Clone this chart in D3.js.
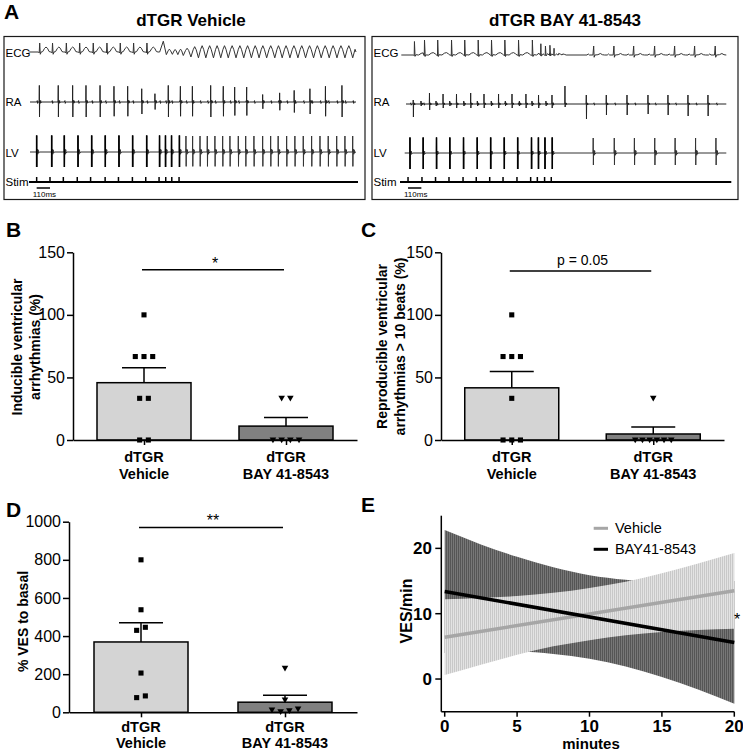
<!DOCTYPE html>
<html><head><meta charset="utf-8">
<script src="https://cdn.jsdelivr.net/npm/d3@7"></script>
<style>body{margin:0;background:#fff}svg{display:block}</style>
</head><body><svg id="chart" width="743" height="750"></svg>
<script>
// ================= DATA =================
const groups = ["dTGR Vehicle", "dTGR BAY 41-8543"];
const groupLabels = [["dTGR", "Vehicle"], ["dTGR", "BAY 41-8543"]];

// Panel B – inducible ventricular arrhythmias (%)
const bVehicle = [100, 66.7, 66.7, 66.7, 33.3, 33.3, 0, 0];
const bBay = [33.3, 33.3, 0, 0, 0, 0];
const bMean = [45.8, 11.1];
const bSem = [11.9, 6.8];
const bTicks = [0, 50, 100, 150];

// Panel C – reproducible ventricular arrhythmias > 10 beats (%)
const cVehicle = [100, 66.7, 66.7, 66.7, 33.3, 0, 0, 0];
const cBay = [33.3, 0, 0, 0, 0, 0, 0];
const cMean = [41.7, 4.8];
const cSem = [13.0, 5.6];
const cTicks = [0, 50, 100, 150];

// Panel D – % VES to basal
const dVehicle = [800, 538, 430, 446, 206, 77, 86];
const dBay = [231, 64, 12, 3, 8, 17];
const dMean = [369, 53];
const dSem = [101, 37];
const dTicks = [0, 200, 400, 600, 800, 1000];

// Panel E – VES/min regression with 95% confidence bands
const eX = [0, 2.5, 5, 7.5, 10, 12.5, 15, 17.5, 20];
const vehLo = [0.6, 2.2, 3.7, 5.0, 5.95, 6.7, 7.2, 7.5, 7.7];
const vehHi = [12.2, 12.4, 12.7, 13.2, 13.95, 14.9, 16.2, 17.7, 19.3];
const bayLo = [4.0, 4.2, 4.2, 3.85, 3.1, 1.9, 0.3, -1.6, -3.8];
const bayHi = [22.8, 20.6, 18.7, 17.1, 15.9, 15.2, 14.8, 14.8, 15.0];
const fitX = [0, 20];
const vehFit = [6.4, 13.5];
const bayFit = [13.4, 5.6];
const eYTicks = [0, 10, 20];
const eXTicks = [0, 5, 10, 15, 20];

// Panel A – recordings (times in ms from start of trace)
const vehStim = [55, 165, 275, 390, 500, 620, 730, 845, 955, 1065, 1120, 1170, 1230];
const vehEcgBeats = [80, 186, 300, 410, 522, 635, 745, 855, 965];
const vehEcgVT = [1125, 1175, 1220, 1265, 1328, 1390, 1451, 1514, 1574, 1636, 1700, 1764, 1827, 1890, 1953, 2020, 2081, 2145, 2211, 2274, 2340, 2403, 2469, 2533, 2599, 2663];
const vehEcgVTamp = [0.45, 0.4, 0.45, 0.6, 0.85, 1, 1, 1, 1, 1, 1, 1, 1, 1, 1, 1, 1, 1, 1, 1, 1, 1, 1, 1, 1, 1];
const vehRA = [77, 233, 352, 462, 578, 693, 806, 922, 1031, 1141, 1241, 1340, 1491, 1595, 1689, 1788, 1920, 2060, 2180, 2310, 2438, 2574];
const vehRAamp = [1, 1, 1, 1, 1, 0.95, 0.95, 0.8, 0.5, 1, 0.95, 0.95, 1, 0.95, 0.9, 0.9, 0.45, 0.55, 0.7, 0.8, 0.95, 1];
const vehLV = [55, 179, 283, 396, 509, 621, 734, 847, 963, 1069, 1118, 1168, 1233, 1287, 1342, 1403, 1463, 1526, 1590, 1650, 1719, 1780, 1848, 1920, 1986, 2048, 2118, 2186, 2255, 2324, 2393, 2461, 2531, 2599, 2663];

const bayStim = [58, 173, 285, 396, 512, 621, 732, 842, 957, 1070, 1125, 1185, 1240];
const bayEcgPaced = [111, 194, 303, 417, 526, 637, 747, 857, 970, 1084, 1154, 1192, 1229, 1263];
const bayEcgPacedAmp = [0.9, 1, 1, 1, 1, 1, 1, 1, 1, 1, 0.75, 0.6, 0.65, 0.45];
const bayEcgPost = [1590, 1757, 1920, 2093, 2258, 2423, 2593];
const bayRA = [101, 165, 235, 289, 347, 402, 458, 518, 575, 630, 685, 745, 805, 861, 916, 977, 1031, 1081, 1135, 1196, 1246, 1353, 1529, 1694, 1865, 2038, 2203, 2368, 2533];
const bayRAup = [0.2, 0.15, 0.55, 0.15, 0.5, 0.15, 0.5, 0.15, 0.55, 0.15, 0.5, 0.15, 0.5, 0.15, 0.5, 0.15, 0.5, 0.15, 0.45, 0.15, 0.45, 0.9, 0.45, 0.45, 0.45, 0.45, 0.45, 0.45, 0.45];
const bayRAdown = [0.65, 0.1, 0.3, 0.1, 0.2, 0.1, 0.2, 0.1, 0.2, 0.1, 0.2, 0.1, 0.2, 0.1, 0.2, 0.1, 0.2, 0.1, 0.2, 0.1, 0.2, 0.15, 0.75, 0.55, 0.55, 0.5, 0.55, 0.6, 0.6];
const bayLV = [74, 183, 293, 403, 516, 629, 740, 852, 963, 1077, 1134, 1188, 1248, 1586, 1760, 1926, 2094, 2262, 2431, 2599];

// ================= DRAWING =================
const FONT = '"Liberation Sans", Arial, Helvetica, sans-serif';
const svg = d3.select("#chart");

function T(g, x, y, s, size, opt = {}) {
  return g.append("text").attr("x", x).attr("y", y).text(s)
    .attr("font-family", FONT).attr("font-size", size)
    .attr("font-weight", opt.bold ? "bold" : "normal")
    .attr("text-anchor", opt.anchor || "start").attr("fill", opt.fill || "#000");
}
function RT(g, x, y, s, size, bold) {
  return g.append("text").attr("transform", `translate(${x},${y}) rotate(-90)`)
    .attr("text-anchor", "middle").attr("font-family", FONT).attr("font-size", size)
    .attr("font-weight", bold ? "bold" : "normal").attr("fill", "#000").text(s);
}

// ---------- Panel A ----------
const ecgSinusTpl = [[-10,0],[-4,-0.1],[0,1],[5,-0.25],[12,0],[25,0.05],[40,0.4],[52,0.55],[64,0.42],[78,0.05],[92,0]];
const ecgPacedTpl = [[-6,0],[-2,-0.05],[0,1],[5,-0.1],[12,0.02],[35,0],[55,0.12],[72,0.16],[88,0.08],[100,0]];
const ecgPostTpl = [[-55,0],[-45,0.07],[-35,0],[-6,0],[0,0.6],[4,-0.15],[10,0],[35,0.02],[55,0.1],[72,0.02],[90,0]];
const place = (tpl, t, a) => tpl.map(([dt, v]) => [t + dt, v * a]);
const spike = (t, up, down, blob) => [[t-1.5,0],[t,up],[t+1.5,-down],[t+3,0],
  [t+6,blob],[t+9,-blob*0.8],[t+12,blob*0.8],[t+16,-blob*0.4],[t+21,0]];
const blip = (t, a) => [[t-2,0],[t+1,a],[t+4,-a],[t+7,0]];

function recording(o) {
  const g = svg.append("g");
  g.append("rect").attr("x", o.box[0]).attr("y", 36.5).attr("width", o.box[1] - o.box[0]).attr("height", 163)
    .attr("fill", "none").attr("stroke", "#1a1a1a").attr("stroke-width", 1.2);
  T(g, o.titleX, 26, o.title, 17, {bold: true, anchor: "middle"});
  const t = d3.scaleLinear().domain([0, 110]).range([o.x0, o.x0 + 13.33]);
  const lx = o.box[0] + 1.5;
  T(g, lx, 56.5, "ECG", 11.5);
  T(g, lx, 106, "RA", 11.5);
  T(g, lx, 156.5, "LV", 11.5);
  T(g, lx, 186, "Stim", 11.5);
  const line = ys => d3.line().x(d => t(d[0])).y(d => ys(d[1]));
  const trace = (pts, start, end, ys, w, col) => {
    const t0 = t.invert(start), t1 = t.invert(end);
    const all = [[t0, 0], ...pts.filter(p => p[0] > t0 && p[0] < t1), [t1, 0]].sort((a, b) => a[0] - b[0]);
    g.append("path").attr("d", line(ys)(all)).attr("fill", "none")
      .attr("stroke", col || "#1a1a1a").attr("stroke-width", w || 1).attr("stroke-linejoin", "round");
  };
  const ecgY = d3.scaleLinear().domain([0, 1]).range([o.ecgBase, o.ecgBase - o.ecgPx]);
  trace(o.ecgPts, o.ecgStart, o.end, ecgY, 1, "#333");
  const raY = d3.scaleLinear().domain([0, 1]).range([o.raBase, o.raBase - 20]);
  trace(o.raPts, o.raStart, o.end, raY, 1, "#222");
  const lvY = d3.scaleLinear().domain([0, 1]).range([o.lvBase, o.lvBase - 20]);
  trace(o.lvPts, o.lvStart, o.end, lvY, 1, "#333");
  o.lvPaced.forEach(([tt, up, dn]) => {
    g.append("line").attr("x1", t(tt)).attr("x2", t(tt)).attr("y1", lvY(up)).attr("y2", lvY(-dn))
      .attr("stroke", "#000").attr("stroke-width", 1.6);
  });
  g.append("line").attr("x1", o.stimStart).attr("x2", o.stimEnd).attr("y1", 182).attr("y2", 182)
    .attr("stroke", "#000").attr("stroke-width", 2);
  o.stim.forEach(s => g.append("line").attr("x1", t(s)).attr("x2", t(s)).attr("y1", 182).attr("y2", 177)
    .attr("stroke", "#000").attr("stroke-width", 1.5));
  g.append("line").attr("x1", t(o.stim[0])).attr("x2", t(o.stim[0] + 110)).attr("y1", 188).attr("y2", 188)
    .attr("stroke", "#000").attr("stroke-width", 1.5);
  T(g, t(o.stim[0]) - 4, 197, "110ms", 8);
}

(function () {
  const ecg = [];
  vehEcgBeats.forEach(b => ecg.push(...place(ecgSinusTpl, b, 1)));
  ecg.push([1070, 0]);
  const first = vehEcgVT[0] - (vehEcgVT[1] - vehEcgVT[0]) / 2;
  ecg.push([first, 1.2]);
  vehEcgVT.forEach((tt, i) => {
    const P = (i < vehEcgVT.length - 1 ? vehEcgVT[i + 1] : tt + 64) - tt;
    const a = vehEcgVTamp[i];
    ecg.push([tt, -0.65 * a], [tt + 0.3 * P, 0.3 * a], [tt + 0.5 * P, 0.7 * a], [tt + 0.7 * P, 0.3 * a]);
  });
  const ra = [];
  vehRA.forEach((tt, i) => ra.push(...spike(tt, 0.83 * vehRAamp[i], 0.75 * vehRAamp[i], 0.08)));
  vehLV.forEach(tt => ra.push(...blip(tt + 4, 0.07)));
  const lv = [];
  vehLV.forEach((tt, i) => lv.push(...spike(tt, i < 13 ? 0.83 : 0.8, i < 13 ? 0.75 : 0.72, 0.14)));
  recording({
    box: [4, 365], title: groups[0], titleX: 191, x0: 30,
    ecgBase: 52, ecgPx: 9, ecgPts: ecg, ecgStart: 28.5,
    raBase: 102, raPts: ra, raStart: 30,
    lvBase: 152, lvPts: lv, lvStart: 30,
    lvPaced: vehLV.slice(0, 13).map(tt => [tt, 0.83, 0.75]),
    end: 356, stim: vehStim, stimStart: 29, stimEnd: 358
  });
})();

(function () {
  const ecg = [];
  bayEcgPaced.forEach((b, i) => ecg.push(...place(ecgPacedTpl, b, bayEcgPacedAmp[i])));
  bayEcgPost.forEach(b => ecg.push(...place(ecgPostTpl, b, 1)));
  const ra = [];
  bayRA.forEach((tt, i) => ra.push(...spike(tt, bayRAup[i], bayRAdown[i], 0.06)));
  bayLV.forEach(tt => ra.push(...blip(tt + 6, 0.06)));
  const lv = [];
  bayLV.forEach((tt, i) => lv.push(...spike(tt, i < 13 ? 0.78 : 0.75, i < 13 ? 0.8 : 0.6, i < 13 ? 0.1 : 0.14)));
  recording({
    box: [372, 738], title: groups[1], titleX: 565, x0: 401,
    ecgBase: 55, ecgPx: 15, ecgPts: ecg, ecgStart: 401.3,
    raBase: 104, raPts: ra, raStart: 406,
    lvBase: 153, lvPts: lv, lvStart: 404.7,
    lvPaced: bayLV.slice(0, 13).map(tt => [tt, 0.78, 0.8]),
    end: 726.3, stim: bayStim, stimStart: 400, stimEnd: 731.3
  });
})();

T(svg, 4, 19, "A", 21, {bold: true});

// ---------- bar panels ----------
function swarm(vals, y, thr, maxSp) {
  const clusters = [];
  vals.forEach((v, i) => {
    const py = y(v);
    let c = clusters.find(c => Math.abs(c.py - py) < thr);
    if (!c) { c = {py, items: []}; clusters.push(c); }
    c.items.push(i);
  });
  const off = new Array(vals.length).fill(0);
  clusters.forEach(c => {
    const n = c.items.length, sp = n > 1 ? Math.min(maxSp, 36 / (n - 1)) : 0;
    c.items.forEach((idx, k) => off[idx] = (k - (n - 1) / 2) * sp);
  });
  return off;
}
function styleAxis(sel, fs, bold) {
  sel.attr("font-size", null).attr("font-family", null);
  sel.select(".domain").attr("stroke", "#000").attr("stroke-width", 1.5);
  sel.selectAll(".tick line").attr("stroke", "#000").attr("stroke-width", 1.5);
  sel.selectAll(".tick text").attr("font-size", fs).attr("font-family", FONT).attr("fill", "#000")
    .attr("font-weight", bold ? "bold" : "normal");
}

function barPanel(o) {
  const g = svg.append("g");
  const x = d3.scalePoint().domain(groups).range([o.xl, o.xr]).padding(0.5);
  const y = d3.scaleLinear().domain([0, o.ticks[o.ticks.length - 1]]).range([o.yb, o.yt]);
  const fills = ["#d4d4d4", "#808080"];
  const bw = 94;
  groups.forEach((grp, i) => {
    const cx = x(grp);
    g.append("rect").attr("x", cx - bw / 2).attr("y", y(o.mean[i])).attr("width", bw)
      .attr("height", y(0) - y(o.mean[i])).attr("fill", fills[i]).attr("stroke", "#000").attr("stroke-width", 1.5);
    g.append("line").attr("x1", cx).attr("x2", cx).attr("y1", y(o.mean[i])).attr("y2", y(o.mean[i] + o.sem[i]))
      .attr("stroke", "#000").attr("stroke-width", 1.5);
    g.append("line").attr("x1", cx - 22).attr("x2", cx + 22).attr("y1", y(o.mean[i] + o.sem[i])).attr("y2", y(o.mean[i] + o.sem[i]))
      .attr("stroke", "#000").attr("stroke-width", 1.5);
  });
  const ya = g.append("g").attr("transform", `translate(${o.xl},0)`)
    .call(d3.axisLeft(y).tickValues(o.ticks).tickFormat(d3.format("d")).tickSize(6).tickSizeOuter(0).tickPadding(2));
  styleAxis(ya, 16, false);
  const xa = g.append("g").attr("transform", `translate(0,${o.yb})`)
    .call(d3.axisBottom(x).tickSize(5).tickSizeOuter(0).tickFormat(""));
  styleAxis(xa, 16, false);
  groups.forEach((grp, i) => {
    T(g, x(grp), o.lab1, groupLabels[i][0], 14.5, {bold: true, anchor: "middle"});
    T(g, x(grp), o.lab1 + 16.5, groupLabels[i][1], 14.5, {bold: true, anchor: "middle"});
  });
  const sq = d3.symbol().type(d3.symbolSquare).size(26)();
  const tri = "M-3.3,-2.6L3.3,-2.6L0,3.2Z";
  [o.veh, o.bay].forEach((vals, i) => {
    const off = swarm(vals, y, 6, 8.7);
    vals.forEach((v, k) => {
      g.append("path").attr("d", i === 0 ? sq : tri)
        .attr("transform", `translate(${x(groups[i]) + off[k]},${y(v)})`).attr("fill", "#000");
    });
  });
  const sy = y(o.sigVal);
  g.append("line").attr("x1", x(groups[0]) - 2).attr("x2", x(groups[1]) - 2).attr("y1", sy).attr("y2", sy)
    .attr("stroke", "#000").attr("stroke-width", 1.5);
  T(g, (x(groups[0]) + x(groups[1])) / 2, sy - o.sigDy, o.sig, o.sigSize, {anchor: "middle"});
  o.ylab.forEach(([s, bx]) => RT(g, bx, o.ylabY, s, 14, true));
  T(svg, o.letter[1], o.letter[2], o.letter[0], 21, {bold: true});
}

barPanel({xl: 73, xr: 357, yb: 440, yt: 252.3, ticks: bTicks, mean: bMean, sem: bSem, veh: bVehicle, bay: bBay,
  lab1: 462, sigVal: 136, sig: "*", sigSize: 16, sigDy: 1,
  ylab: [["Inducible ventricular", 21.5], ["arrhythmias (%)", 40]], ylabY: 347, letter: ["B", 6, 237]});
barPanel({xl: 441, xr: 724, yb: 440, yt: 252.3, ticks: cTicks, mean: cMean, sem: cSem, veh: cVehicle, bay: cBay,
  lab1: 462, sigVal: 135, sig: "p = 0.05", sigSize: 14, sigDy: 6,
  ylab: [["Reproducible ventricular", 387], ["arrhythmias > 10 beats (%)", 405]], ylabY: 346.5, letter: ["C", 361, 237]});
barPanel({xl: 69, xr: 357, yb: 712.3, yt: 521.7, ticks: dTicks, mean: dMean, sem: dSem, veh: dVehicle, bay: dBay,
  lab1: 731.5, sigVal: 970, sig: "**", sigSize: 16, sigDy: 1,
  ylab: [["% VES to basal", 28]], ylabY: 621.5, letter: ["D", 6, 517]});

// ---------- Panel E ----------
(function () {
  const g = svg.append("g");
  const x = d3.scaleLinear().domain([0, 20]).range([444.7, 734.3]);
  const y = d3.scaleLinear().domain([-5, 25]).range([711.7, 515.7]);
  const defs = svg.append("defs");
  const pat = (id, base, stripe) => {
    const p = defs.append("pattern").attr("id", id).attr("width", 2).attr("height", 10).attr("patternUnits", "userSpaceOnUse");
    p.append("rect").attr("width", 2).attr("height", 10).attr("fill", base);
    p.append("rect").attr("width", 1).attr("height", 10).attr("fill", stripe);
  };
  pat("hDark", "#777777", "#555555");
  pat("hLight", "#e3e3e3", "#c8c8c8");
  const area = d3.area().x(d => x(d[0])).y0(d => y(d[1])).y1(d => y(d[2])).curve(d3.curveMonotoneX);
  g.append("path").attr("d", area(eX.map((v, i) => [v, bayLo[i], bayHi[i]]))).attr("fill", "url(#hDark)");
  g.append("path").attr("d", area(eX.map((v, i) => [v, vehLo[i], vehHi[i]]))).attr("fill", "url(#hLight)");
  const ln = d3.line().x(d => x(d[0])).y(d => y(d[1]));
  g.append("path").attr("d", ln(fitX.map((v, i) => [v, vehFit[i]]))).attr("stroke", "#a6a6a6").attr("stroke-width", 3.5).attr("fill", "none");
  g.append("path").attr("d", ln(fitX.map((v, i) => [v, bayFit[i]]))).attr("stroke", "#000").attr("stroke-width", 3.5).attr("fill", "none");
  g.append("line").attr("x1", 441.3).attr("x2", 441.3).attr("y1", y(25)).attr("y2", y(-5)).attr("stroke", "#000").attr("stroke-width", 1.5);
  g.append("line").attr("x1", 441.3).attr("x2", x(20)).attr("y1", y(-5)).attr("y2", y(-5)).attr("stroke", "#000").attr("stroke-width", 1.5);
  eYTicks.forEach(v => {
    g.append("line").attr("x1", 435.3).attr("x2", 441.3).attr("y1", y(v)).attr("y2", y(v)).attr("stroke", "#000").attr("stroke-width", 1.5);
    T(g, 432, y(v) + 6, String(v), 17, {bold: true, anchor: "end"});
  });
  eXTicks.forEach(v => {
    g.append("line").attr("x1", x(v)).attr("x2", x(v)).attr("y1", y(-5)).attr("y2", y(-5) + 5).attr("stroke", "#000").attr("stroke-width", 1.5);
    T(g, x(v), 732, String(v), 17, {bold: true, anchor: "middle"});
  });
  T(g, 591, 748.5, "minutes", 15, {bold: true, anchor: "middle"});
  RT(g, 412, 611, "VES/min", 16, true);
  g.append("line").attr("x1", 593.7).attr("x2", 608).attr("y1", 528.3).attr("y2", 528.3).attr("stroke", "#a6a6a6").attr("stroke-width", 3);
  T(g, 615, 533.3, "Vehicle", 14.5);
  g.append("line").attr("x1", 593.7).attr("x2", 608).attr("y1", 549.3).attr("y2", 549.3).attr("stroke", "#000").attr("stroke-width", 3);
  T(g, 615, 554.3, "BAY41-8543", 14.5);
  T(g, 737, 625, "*", 16, {anchor: "middle"});
  T(svg, 361, 512, "E", 21, {bold: true});
})();
</script>
</body></html>
